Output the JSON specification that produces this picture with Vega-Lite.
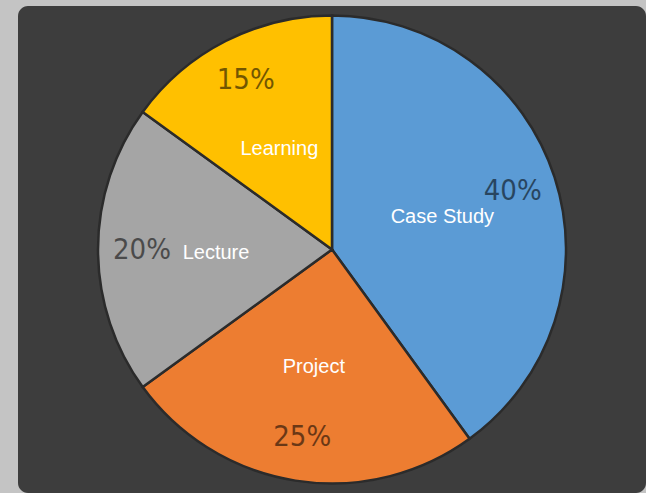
{
  "$schema": "https://vega.github.io/schema/vega-lite/v6.json",
  "width": 646,
  "height": 493,
  "autosize": {"type": "fit", "contains": "padding"},
  "padding": {"left": 18, "top": 6, "right": 0, "bottom": 0},
  "background": "#c4c4c4",
  "view": {"fill": "#3d3d3d", "stroke": null, "cornerRadius": 10},
  "config": {"view": {"fill": "#3d3d3d", "stroke": null}},
  "data": {
    "values": [
      {"category": "Case Study", "value": 40, "label": "40%", "idx": 1},
      {"category": "Project", "value": 25, "label": "25%", "idx": 2},
      {"category": "Lecture", "value": 20, "label": "20%", "idx": 3},
      {"category": "Learning", "value": 15, "label": "15%", "idx": 4}
    ]
  },
  "encoding": {
    "theta": {"field": "value", "type": "quantitative", "stack": true},
    "order": {"field": "idx", "type": "quantitative"}
  },
  "layer": [
    {
      "mark": {"type": "arc", "outerRadius": 234, "stroke": "#2b2b2b", "strokeWidth": 2.5},
      "encoding": {
        "color": {
          "field": "category",
          "type": "nominal",
          "scale": {
            "domain": ["Case Study", "Project", "Lecture", "Learning"],
            "range": ["#5b9bd5", "#ed7d31", "#a5a5a5", "#ffc000"]
          },
          "legend": null
        }
      }
    },
    {
      "mark": {"type": "text", "radius": 190, "font": "DejaVu Sans Condensed", "fontSize": 29, "fill": "#000000", "opacity": 0.55},
      "encoding": {"text": {"field": "label"}}
    },
    {
      "mark": {"type": "text", "radius": 116, "dy": 3, "font": "Liberation Sans", "fontSize": 20, "fill": "#ffffff"},
      "encoding": {"text": {"field": "category"}}
    }
  ]
}
